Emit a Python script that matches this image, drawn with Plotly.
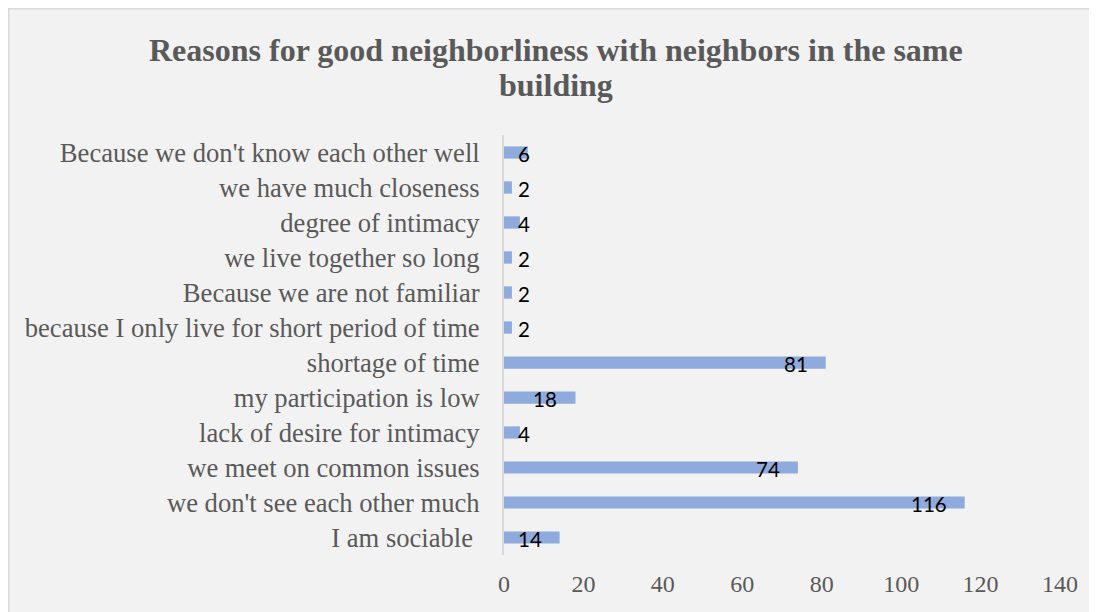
import plotly.graph_objects as go

categories = [
    "Because we don't know each other well",
    "we have much closeness",
    "degree of intimacy",
    "we live together so long",
    "Because we are not familiar",
    "because I only live for short period of time",
    "shortage of time",
    "my participation is low",
    "lack of desire for intimacy",
    "we meet on common issues",
    "we don't see each other much",
    "I am sociable\u00a0",
]
values = [6, 2, 4, 2, 2, 2, 81, 18, 4, 74, 116, 14]
x_ticks = [0, 20, 40, 60, 80, 100, 120, 140]

title_lines = ["Reasons for good neighborliness with neighbors in the same", "building"]

L, R, T, B = 496, 45, 127, 65
PW, PH = 1097 - L - R, 612 - T - B

fig = go.Figure()
fig.add_trace(go.Bar(
    x=values, y=categories, orientation="h",
    marker=dict(color="#8faadc", line=dict(width=0)),
    hoverinfo="x+y",
))

annotations = []
for c, v in zip(categories, values):
    if v >= 10:
        annotations.append(dict(x=v, y=c, xref="x", yref="y", text=str(v),
                                showarrow=False, xanchor="right", xshift=-16, yshift=-1,
                                font=dict(family="Lato", size=20.5, color="#000000")))
    else:
        annotations.append(dict(x=0, y=c, xref="x", yref="y", text=str(v),
                                showarrow=False, xanchor="left", xshift=12, yshift=-1,
                                font=dict(family="Lato", size=20.5, color="#000000")))

# title, two lines with tighter spacing (pixel centres 42 and 77 from top)
for line, ypx in zip(title_lines, [42, 77]):
    annotations.append(dict(text="<b>" + line + "</b>", showarrow=False,
                            xref="paper", yref="paper",
                            x=(548 - L) / PW, y=(PH + T - ypx) / PH,
                            xanchor="center", yanchor="middle",
                            font=dict(family="Liberation Serif", size=32, color="#595959")))

fig.update_layout(
    width=1097, height=612,
    margin=dict(l=L, r=R, t=T, b=B),
    paper_bgcolor="#f2f2f2",
    plot_bgcolor="rgba(0,0,0,0)",
    bargap=0.65,
    showlegend=False,
    xaxis=dict(range=[0, 140], tickvals=x_ticks, showgrid=False, zeroline=False,
               showline=False, ticks="", ticklabelstandoff=12,
               tickfont=dict(family="Liberation Serif", size=24, color="#595959")),
    yaxis=dict(autorange="reversed", showgrid=False, zeroline=False,
               showline=True, linecolor="#d9d9d9", linewidth=2, ticks="",
               ticklabelstandoff=17,
               tickfont=dict(family="Liberation Serif", size=26.6, color="#595959")),
    annotations=annotations,
    shapes=[dict(type="rect", xref="paper", yref="paper",
                 x0=(0 - L) / PW, x1=(1120 - L) / PW,
                 y0=(PH + T - 640) / PH, y1=(PH + T - 0) / PH,
                 fillcolor="rgba(0,0,0,0)", line=dict(color="#d9d9d9", width=3),
                 layer="below")],
)

fig.write_html("out.html")
